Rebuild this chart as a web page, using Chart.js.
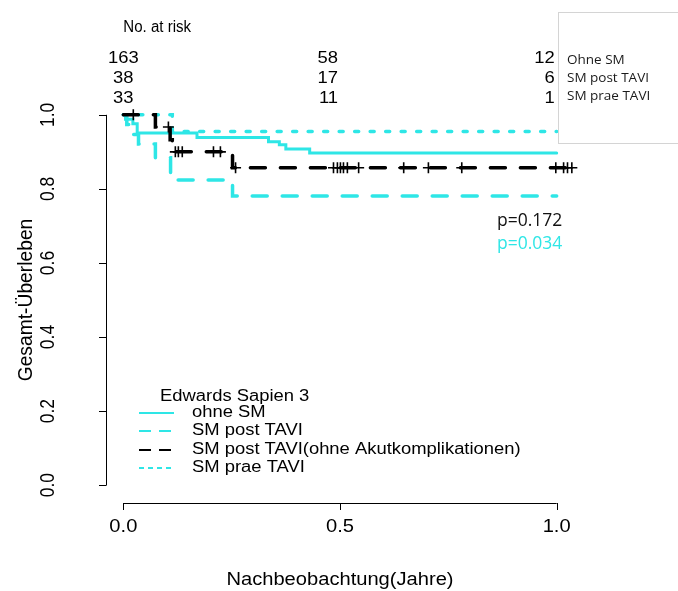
<!DOCTYPE html>
<html>
<head>
<meta charset="utf-8">
<script src="https://cdn.jsdelivr.net/npm/chart.js@4.4.1/dist/chart.umd.min.js"></script>
<style>
  html, body { margin: 0; padding: 0; background: #fff; }
  #wrap { width: 678px; height: 591px; }
</style>
</head>
<body>
<div id="wrap"><canvas id="km" width="678" height="591"></canvas></div>
<script>
// Kaplan-Meier steps (time in years, survival)
const ohneTime = [0, 0.005, 0.022, 0.032, 0.17, 0.335, 0.36, 0.375, 0.43, 1.0];
const ohneSurv = [1.0, 0.988, 0.976, 0.951, 0.939, 0.927, 0.919, 0.908, 0.897, 0.897];

const postTime = [0, 0.008, 0.02, 0.035, 0.074, 0.109, 0.252, 1.0];
const postSurv = [1.0, 0.974, 0.947, 0.921, 0.884, 0.824, 0.781, 0.781];

const postOhneAkutTime = [0, 0.074, 0.108, 0.113, 0.252, 1.035];
const postOhneAkutSurv = [1.0, 0.967, 0.933, 0.9, 0.857, 0.857];

const censorTime = [0.023, 0.104, 0.12, 0.127, 0.136, 0.208, 0.224, 0.259, 0.485, 0.494,
                    0.501, 0.508, 0.517, 0.543, 0.647, 0.704, 0.781, 0.998, 1.016, 1.025, 1.035];
const censorSurv = [1.0, 0.967, 0.9, 0.9, 0.9, 0.9, 0.9, 0.857, 0.857, 0.857,
                    0.857, 0.857, 0.857, 0.857, 0.857, 0.857, 0.857, 0.857, 0.857, 0.857, 0.857];

const praeTime = [0, 0.113, 1.0];
const praeSurv = [1.0, 0.955, 0.955];

// number at risk table
const riskTimes = [0, 0.5, 1.0];
const riskOhne = [163, 58, 12];
const riskPost = [38, 17, 6];
const riskPrae = [33, 11, 1];
const riskLabels = ['Ohne SM', 'SM post TAVI', 'SM prae TAVI'];

const xTicks = [0, 0.5, 1.0];
const yTicks = [0, 0.2, 0.4, 0.6, 0.8, 1.0];

const legendLabels = ['ohne SM', 'SM post TAVI', 'SM post TAVI(ohne Akutkomplikationen)', 'SM prae TAVI'];
const pValues = ['p=0.172', 'p=0.034'];

const CYAN = '#2ee6e6';
const R_FONT = '16px "Liberation Sans", Arial, sans-serif';
const AXIS_FONT = '17.5px "Liberation Sans", Arial, sans-serif';
const SX = 1.15; // the figure is stretched horizontally

function pts(t, s) {
    return t.map((v, i) => ({ x: v, y: s[i] }));
}

function stext(ctx, txt, x, y, align, sx) {
    ctx.save();
    ctx.translate(x, y);
    ctx.scale(sx, 1);
    ctx.textAlign = align;
    ctx.textBaseline = 'middle';
    ctx.fillText(txt, 0, 0);
    ctx.restore();
}

const rDecor = {
    id: 'rDecor',
    afterDraw(chart) {
        const ctx = chart.ctx;
        const xs = chart.scales.x;
        const ys = chart.scales.y;
        ctx.save();
        ctx.strokeStyle = '#000';
        ctx.fillStyle = '#000';
        ctx.lineWidth = 1;

        // y axis (R style, detached from the box)
        const ax = chart.chartArea.left;
        ctx.beginPath();
        ctx.moveTo(ax + 0.5, ys.getPixelForValue(0));
        ctx.lineTo(ax + 0.5, ys.getPixelForValue(1));
        yTicks.forEach(v => {
            const py = Math.round(ys.getPixelForValue(v)) + 0.5;
            ctx.moveTo(ax + 0.5, py);
            ctx.lineTo(ax - 7, py);
        });
        ctx.stroke();
        ctx.font = AXIS_FONT;
        yTicks.forEach(v => {
            ctx.save();
            ctx.translate(48, ys.getPixelForValue(v));
            ctx.rotate(-Math.PI / 2);
            ctx.scale(1, SX);
            ctx.textAlign = 'center';
            ctx.textBaseline = 'middle';
            ctx.fillText(v.toFixed(1), 0, 0);
            ctx.restore();
        });
        ctx.save();
        ctx.translate(26, (chart.chartArea.top + chart.chartArea.bottom) / 2);
        ctx.rotate(-Math.PI / 2);
        ctx.scale(1.1, SX);
        ctx.textAlign = 'center';
        ctx.textBaseline = 'middle';
        ctx.fillText('Gesamt-Überleben', 0, 0);
        ctx.restore();

        // x axis
        const ay = 503;
        ctx.beginPath();
        ctx.moveTo(xs.getPixelForValue(0), ay + 0.5);
        ctx.lineTo(xs.getPixelForValue(1), ay + 0.5);
        xTicks.forEach(v => {
            const px = Math.round(xs.getPixelForValue(v)) + 0.5;
            ctx.moveTo(px, ay);
            ctx.lineTo(px, ay + 7);
        });
        ctx.stroke();
        xTicks.forEach(v => stext(ctx, v.toFixed(1), xs.getPixelForValue(v), 527, 'center', SX));
        stext(ctx, 'Nachbeobachtung(Jahre)', xs.getPixelForValue(0.5), 580, 'center', SX);

        // number at risk
        ctx.font = R_FONT;
        stext(ctx, 'No. at risk', xs.getPixelForValue(0), 28, 'left', 0.94);
        const rows = [riskOhne, riskPost, riskPrae];
        const rowY = [59, 79, 99];
        rows.forEach((row, r) => {
            row.forEach((n, i) => {
                const px = xs.getPixelForValue(riskTimes[i]);
                if (i === 0) stext(ctx, String(n), px, rowY[r], 'center', SX);
                else stext(ctx, String(n), px - 2, rowY[r], 'right', SX);
            });
        });

        // box with the row names
        ctx.strokeStyle = '#d4d4d4';
        ctx.strokeRect(558.5, 12.5, 130, 131);
        ctx.font = '13.5px "Open Sans", sans-serif';
        ctx.fillStyle = '#1a1a1a';
        const boxY = [60, 78, 96];
        riskLabels.forEach((l, i) => stext(ctx, l, 567, boxY[i], 'left', 1));

        // p values
        ctx.font = '17.5px "Open Sans", sans-serif';
        ctx.fillStyle = '#111';
        stext(ctx, pValues[0], 497, 221, 'left', 1);
        ctx.fillStyle = CYAN;
        stext(ctx, pValues[1], 497, 244, 'left', 1);

        // bottom legend
        ctx.font = R_FONT;
        ctx.fillStyle = '#000';
        stext(ctx, 'Edwards Sapien 3', 160, 397, 'left', SX);
        const legStyle = [
            { c: CYAN, d: [] },
            { c: CYAN, d: [12, 8] },
            { c: '#000', d: [12, 8] },
            { c: CYAN, d: [5, 4] }
        ];
        const legY = [413, 431, 450, 468];
        legendLabels.forEach((l, i) => {
            ctx.save();
            ctx.strokeStyle = legStyle[i].c;
            ctx.lineWidth = 2;
            ctx.setLineDash(legStyle[i].d);
            ctx.beginPath();
            ctx.moveTo(139, legY[i]);
            ctx.lineTo(174, legY[i]);
            ctx.stroke();
            ctx.restore();
            stext(ctx, l, 192, legY[i], 'left', SX);
        });
        ctx.restore();
    }
};

const lineBase = {
    type: 'line',
    stepped: 'before',
    pointRadius: 0,
    borderWidth: 3.5,
    borderCapStyle: 'round',
    fill: false,
    clip: false
};

new Chart(document.getElementById('km'), {
    data: {
        datasets: [
            {
                type: 'scatter',
                label: 'censored',
                data: pts(censorTime, censorSurv),
                pointStyle: 'cross',
                pointRadius: 5.5,
                borderWidth: 1.6,
                borderColor: '#000',
                showLine: false,
                clip: false
            },
            Object.assign({}, lineBase, {
                label: 'SM post TAVI(ohne Akutkomplikationen)',
                data: pts(postOhneAkutTime, postOhneAkutSurv),
                borderColor: '#000',
                borderDash: [15, 15]
            }),
            Object.assign({}, lineBase, {
                label: 'SM prae TAVI',
                data: pts(praeTime, praeSurv),
                borderColor: CYAN,
                borderDash: [4, 11.5]
            }),
            Object.assign({}, lineBase, {
                label: 'SM post TAVI',
                data: pts(postTime, postSurv),
                borderColor: CYAN,
                borderDash: [15, 15]
            }),
            Object.assign({}, lineBase, {
                label: 'ohne SM',
                data: pts(ohneTime, ohneSurv),
                borderColor: CYAN,
                borderWidth: 3
            })
        ]
    },
    options: {
        responsive: false,
        animation: false,
        events: [],
        layout: { padding: { left: 106, right: 104, top: 100, bottom: 91 } },
        plugins: { legend: { display: false }, tooltip: { enabled: false } },
        scales: {
            x: { type: 'linear', min: -0.04, max: 1.04, display: false },
            y: { type: 'linear', min: -0.04, max: 1.04, display: false }
        }
    },
    plugins: [rDecor]
});
</script>
</body>
</html>
